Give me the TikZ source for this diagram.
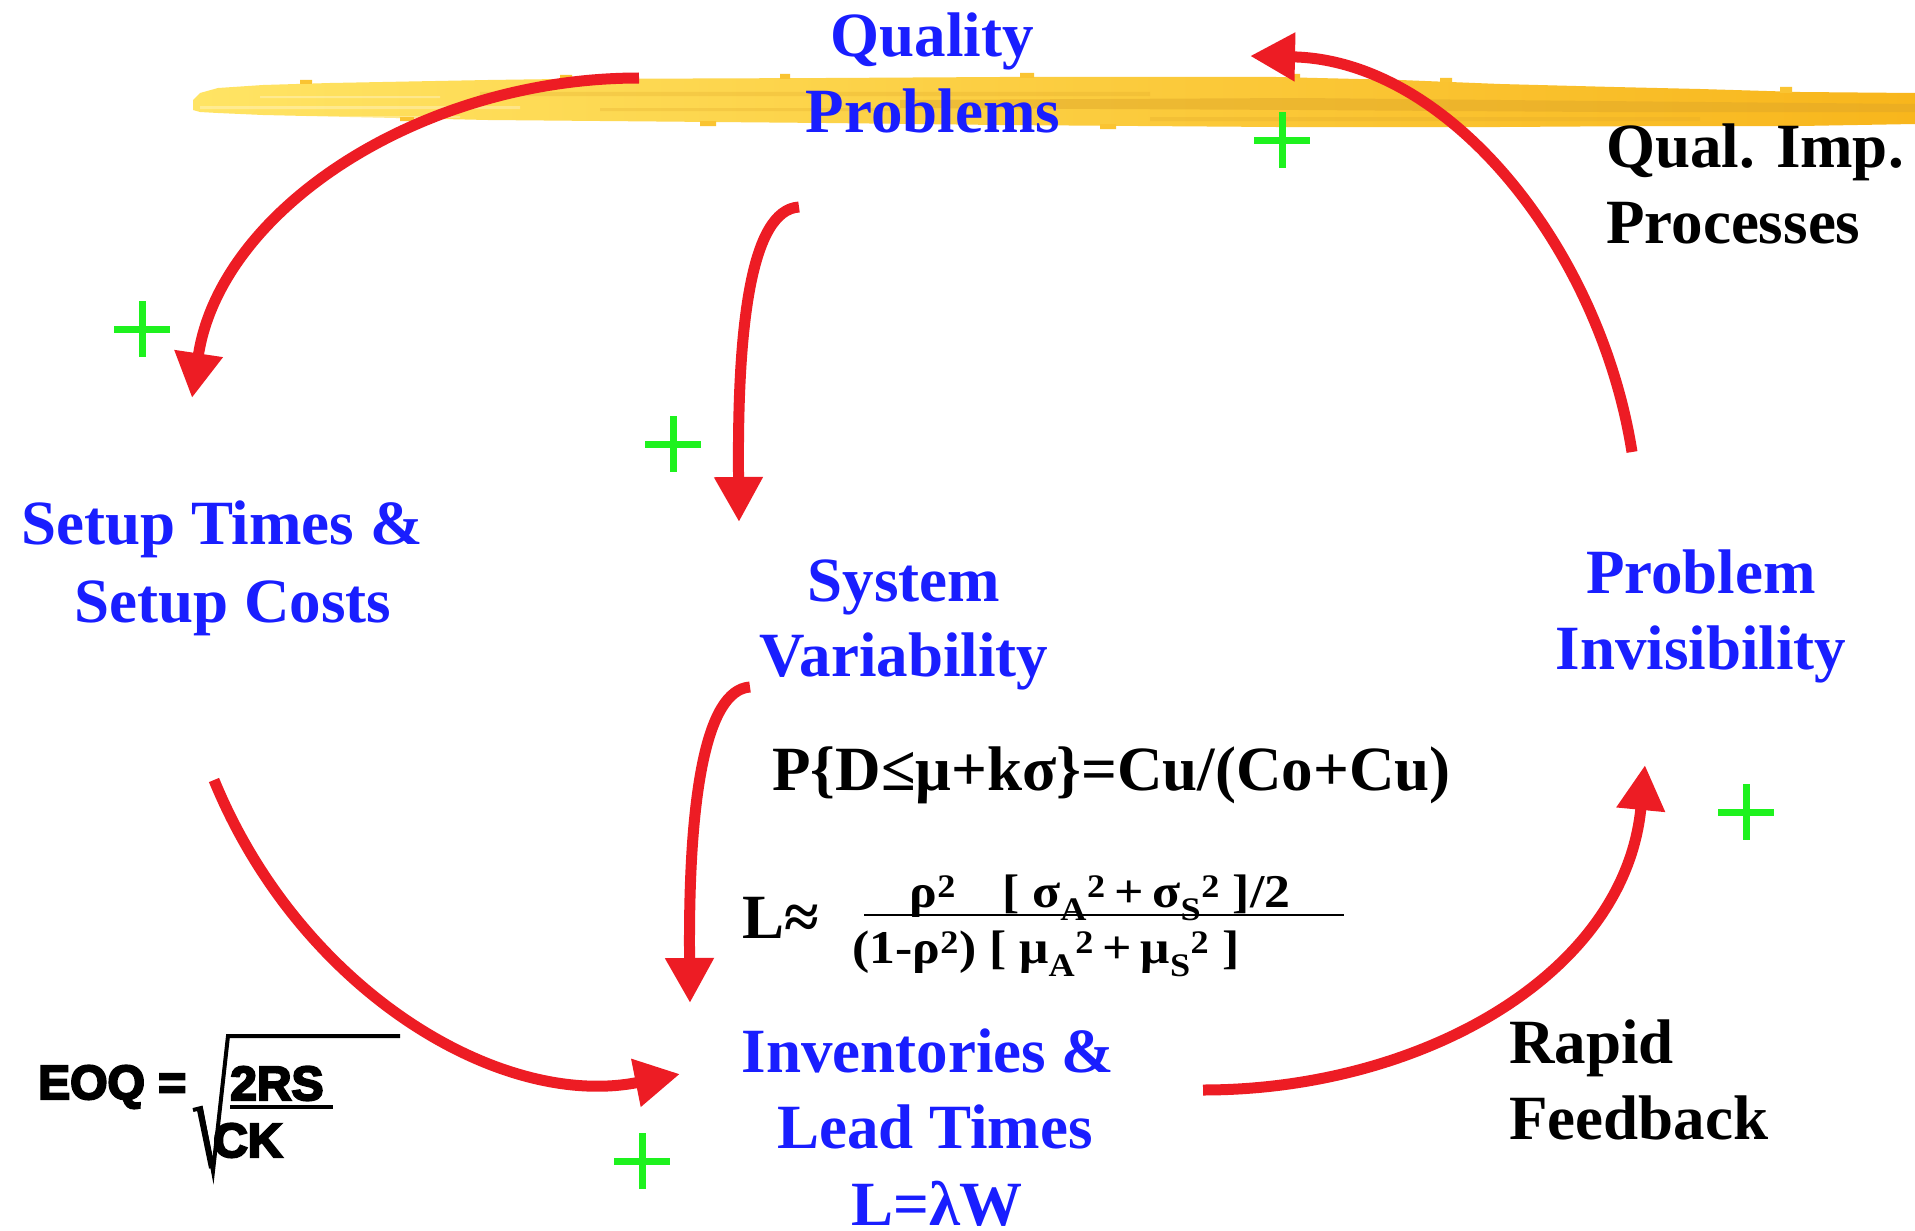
\documentclass[tikz,border=0pt]{standalone}
\usepackage{fontspec}
\usepackage{graphicx}
\setmainfont{Liberation Serif}
\newfontfamily\eoqfont{Liberation Sans Bold}
\usetikzlibrary{arrows.meta}
\definecolor{lblue}{RGB}{25,30,255}
\definecolor{lred}{RGB}{237,28,36}
\definecolor{lgreen}{RGB}{30,242,30}
\definecolor{hlA}{RGB}{255,228,100}
\definecolor{hlB}{RGB}{248,182,28}
\definecolor{hlD}{RGB}{222,165,40}
\newcommand{\heavy}[1]{\special{pdf:literal direct 2 Tr 2.2 w}#1\special{pdf:literal direct 0 Tr}}
\tikzset{
  blu/.style={text=lblue, font=\bfseries\fontsize{63}{76}\selectfont, anchor=base, inner sep=0pt},
  blk/.style={text=black, font=\bfseries\fontsize{63}{76}\selectfont, anchor=base west, inner sep=0pt},
  frac/.style={text=black, font=\bfseries\fontsize{47}{52}\selectfont, anchor=base, inner sep=0pt},
  eoq/.style={text=black, font=\eoqfont\fontsize{48}{56}\selectfont, anchor=base west, inner sep=0pt},
  arr/.style={draw=lred, line width=11pt, -{Triangle[length=45pt,width=46pt]}},
  plusmark/.style={draw=lgreen, line width=7pt},
}
\newcommand{\plusat}[1]{\draw[plusmark] (#1) +(-28,0) -- +(28,0) (#1) +(0,-28) -- +(0,28);}
\begin{document}
\begin{tikzpicture}[x=1pt,y=-1pt]
\useasboundingbox (0,0) rectangle (1915,1231);
\fill[white] (0,0) rectangle (1915,1231);

% highlighter stroke
\shade[left color=hlA, right color=hlB]
  (193,100) -- (200,93) -- (218,88) -- (263,85) -- (330,83) -- (488,80) -- (560,79)
  -- (826,78) -- (1000,77) -- (1276,77) -- (1400,80) -- (1500,84) -- (1614,87)
  -- (1700,89) -- (1800,92) -- (1915,93) -- (1915,124) -- (1800,126) -- (1660,126)
  -- (1500,127) -- (1276,127) -- (1000,125) -- (826,123) -- (600,121) -- (488,120)
  -- (350,117) -- (263,115) -- (218,113) -- (200,112) -- (193,110) -- cycle;
\fill[hlD, opacity=0.45] (900,100) -- (1300,98) -- (1600,101) -- (1915,104)
  -- (1915,112) -- (1600,112) -- (1300,110) -- (900,108) -- cycle;
\fill[hlD, opacity=0.25] (480,92) rectangle (1150,96) (600,108) rectangle (900,111)
  (1150,117) rectangle (1700,121);
\fill[white, opacity=0.3] (200,106) rectangle (520,109) (260,96) rectangle (440,98)
  (300,116) rectangle (460,118);
\fill[hlB!70!hlA] (560,75) rectangle (572,80) (780,74) rectangle (790,79)
  (1020,73) rectangle (1034,78) (1290,74) rectangle (1300,78) (1440,78) rectangle (1452,82)
  (1780,87) rectangle (1792,93) (300,80) rectangle (312,84) (700,121) rectangle (716,126)
  (1100,124) rectangle (1116,129) (400,117) rectangle (414,121);

% plus signs
\coordinate (p1) at (142,329);
\coordinate (p2) at (673,444);
\coordinate (p3) at (1282,140);
\coordinate (p4) at (1746,812);
\coordinate (p5) at (642,1161);
\plusat{p1}
\plusat{p2}
\plusat{p3}
\plusat{p4}
\plusat{p5}

% nodes
\node[blu] (qual1) at (932,57) {Quality};
\node[blu] (qual2) at (933,132) {Problems};
\node[blu] (setup1) at (222,544) {Setup Times \&};
\node[blu] (setup2) at (233,622) {Setup Costs};
\node[blu] (sys1) at (904,601) {System};
\node[blu] (sys2) at (904,676) {Variability};
\node[blu] (prob1) at (1701,593) {Problem};
\node[blu] (prob2) at (1701,669) {Invisibility};
\node[blu] (inv1) at (928,1072) {Inventories \&};
\node[blu] (inv2) at (935,1148) {Lead Times};
\node[blu] (inv3) at (937,1225) {L=λW};
\node[blk] (qip1) at (1606,167) {Qual. Imp.};
\node[blk] (qip2) at (1606,243) {Processes};
\node[blk] (rf1) at (1509,1063) {Rapid};
\node[blk] (rf2) at (1509,1139) {Feedback};

% formulas
\node[blk] (newsv) at (772,790) {P\{D≤μ+kσ\}=Cu/(Co+Cu)};
\node[blk] (lapprox) at (742,938) {L≈};
\node[frac] (num) at (1100,907) {\scalebox{1.1}[1]{ρ\textsuperscript{2}\hspace{42pt}[ σ\textsubscript{A}\textsuperscript{2}\,+\,σ\textsubscript{S}\textsuperscript{2} ]/2}};
\node[frac] (den) at (1046,963) {\scalebox{1.1}[1]{(1-ρ\textsuperscript{2}) [ μ\textsubscript{A}\textsuperscript{2}\,+\,μ\textsubscript{S}\textsuperscript{2} ]}};
\draw[line width=2.2pt] (864,915) -- (1344,915);

% EOQ
\node[eoq] (eoq) at (38,1099) {\heavy{EOQ =}};
\node[eoq] (eoqn) at (230,1100) {\heavy{2RS}};
\node[eoq] (eoqd) at (213,1157) {\heavy{CK}};
\draw[line width=3.5pt] (230,1107) -- (333,1107);
\draw[line width=4pt, line join=miter] (193,1110) -- (201,1108) -- (213,1171) -- (228,1036) -- (400,1036);
\draw[line width=6pt] (200,1110) -- (212,1168);

% arrows
\coordinate (a1s) at (639,78);   \coordinate (a1e) at (192,398);
\coordinate (a2s) at (799,207);  \coordinate (a2e) at (739,522);
\coordinate (a3s) at (750,687);  \coordinate (a3e) at (690,1003);
\coordinate (a4s) at (214,780);  \coordinate (a4e) at (680,1074);
\coordinate (a5s) at (1203,1090);\coordinate (a5e) at (1645,765);
\coordinate (a6s) at (1632,452); \coordinate (a6e) at (1250,56);
\draw[arr] (a1s) .. controls (420,78) and (220,210) .. (a1e);
\draw[arr] (a2s) .. controls (750,210) and (737,330) .. (a2e);
\draw[arr] (a3s) .. controls (705,690) and (688,800) .. (a3e);
\draw[arr] (a4s) .. controls (300,990) and (500,1110) .. (a4e);
\draw[arr] (a5s) .. controls (1420,1090) and (1625,975) .. (a5e);
\draw[arr] (a6s) .. controls (1600,250) and (1450,60) .. (a6e);
\end{tikzpicture}
\end{document}
